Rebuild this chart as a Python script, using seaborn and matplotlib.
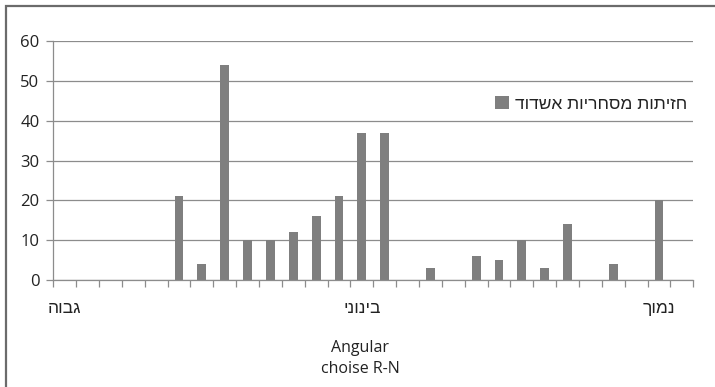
import matplotlib
matplotlib.use("Agg")
import matplotlib.pyplot as plt
from matplotlib.patches import Rectangle
import seaborn as sns
import pandas as pd
import numpy as np

# Angular choice R-N classes (28 bins, only three of them labelled)
categories = [str(i) for i in range(28)]
counts = [0, 0, 0, 0, 0, 21, 4, 54, 10, 10, 12, 16, 21, 37, 37,
          0, 3, 0, 6, 5, 10, 3, 14, 0, 4, 0, 20, 0]
tick_labels = {0: "גבוה", 13: "בינוני", 26: "נמוך"}
series_name = "חזיתות מסחריות אשדוד"
x_title = "Angular\nchoise R-N"
y_ticks = [0, 10, 20, 30, 40, 50, 60]


def rtl(s):
    # matplotlib lays glyphs out left-to-right; flip Hebrew for display
    return s[::-1]


sns.set_theme(style="white")
plt.rcParams["font.family"] = ["Open Sans", "DejaVu Sans"]
HEB = ["Liberation Sans", "DejaVu Sans"]
TXT = "#222222"

W, H = 715, 387
fig = plt.figure(figsize=(W / 100, H / 100), dpi=100)
ax = fig.add_axes([53.3 / W, 107 / H, 640 / W, 238.7 / H])

df = pd.DataFrame({"cat": categories, "value": counts})
sns.barplot(data=df, x="cat", y="value", order=categories, color="#7f7f7f",
            saturation=1, width=0.39, ax=ax, label=rtl(series_name),
            linewidth=0)

grid_c = "#8c8c8c"
ax.set_ylim(0, 60)
ax.set_xlim(-0.5, len(categories) - 0.5)
ax.set_yticks(y_ticks)
ax.set_yticklabels([str(v) for v in y_ticks], fontsize=12, color=TXT)
ax.yaxis.grid(True, color=grid_c, linewidth=0.9)
ax.set_axisbelow(True)

# labels at bin centres, tick marks at bin boundaries
ax.set_xticks(list(tick_labels.keys()))
ax.set_xticklabels([rtl(t) for t in tick_labels.values()], fontsize=12.5,
                   color=TXT, family=HEB)
ax.set_xticks(np.arange(-0.5, len(categories), 1.0), minor=True)
ax.tick_params(axis="x", which="major", length=0, pad=15)
ax.tick_params(axis="x", which="minor", length=5, width=0.9, color=grid_c,
               direction="out", bottom=True)
ax.tick_params(axis="y", length=5, width=0.9, color=grid_c, direction="out",
               left=True, pad=5)

for side in ["top", "right"]:
    ax.spines[side].set_visible(False)
for side in ["left", "bottom"]:
    ax.spines[side].set_color(grid_c)
    ax.spines[side].set_linewidth(0.9)

ax.set_xlabel(x_title, fontsize=11.5, color=TXT, linespacing=1.45)
ax.xaxis.set_label_coords((360 - 53.3) / 640, -60 / 238.7)
ax.xaxis.label.set_va("top")
ax.set_ylabel("")

leg = ax.legend(loc="center left", bbox_to_anchor=(495 / W, 283 / H),
                bbox_transform=fig.transFigure, frameon=False,
                prop={"family": HEB, "size": 12.5},
                handlelength=0.8, handleheight=0.8, handletextpad=0.35,
                borderpad=0, borderaxespad=0)
for t in leg.get_texts():
    t.set_color(TXT)

# outer chart frame
fig.patches.append(Rectangle((5.5 / W, -0.05), 1.2, 1.05 - 5.5 / H,
                             transform=fig.transFigure, fill=False,
                             edgecolor="#6b6b6b", linewidth=1.6))

fig.savefig("out.png", dpi=100)
